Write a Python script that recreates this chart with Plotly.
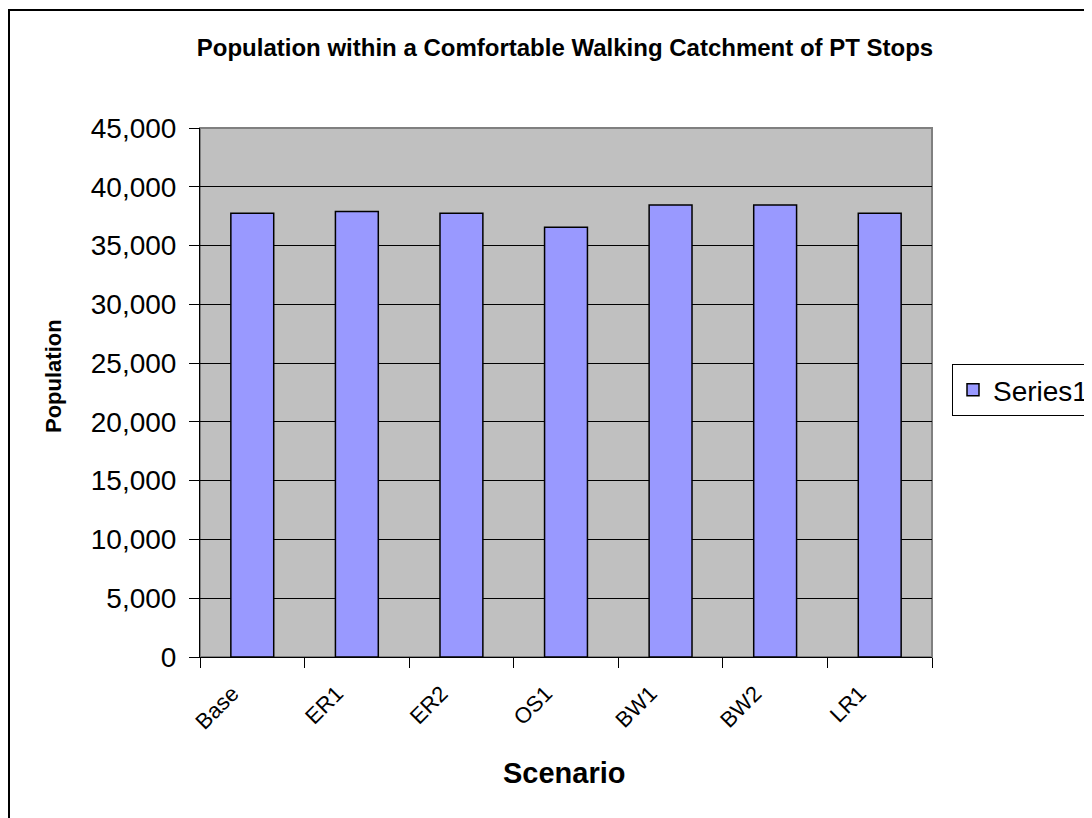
import plotly.graph_objects as go

scenarios = ["Base", "ER1", "ER2", "OS1", "BW1", "BW2", "LR1"]
population = [37750, 37900, 37750, 36550, 38450, 38450, 37750]
y_ticks = [0, 5000, 10000, 15000, 20000, 25000, 30000, 35000, 40000, 45000]
y_tick_labels = ["0", "5,000", "10,000", "15,000", "20,000", "25,000",
                 "30,000", "35,000", "40,000", "45,000"]

FONT = "Arial, Liberation Sans, sans-serif"

fig = go.Figure()
fig.add_trace(go.Bar(
    x=scenarios, y=population, name="Series1",
    marker=dict(color="#9999FF", line=dict(color="black", width=1.5)),
    showlegend=True,
))

OFF = 8  # page offset of the figure div
W, H = 1084, 810
L, T = 200 - OFF, 128 - OFF
R = W - (932 - OFF)
B = H - (657 - OFF)
pw, ph = W - L - R, H - T - B

def px_x(p):
    return (p - OFF - L) / pw

def px_y(p):
    return ((H - B) - (p - OFF)) / ph

fig.update_layout(
    width=W, height=H, autosize=False,
    margin=dict(l=L, r=R, t=T, b=B),
    paper_bgcolor="white", plot_bgcolor="#C0C0C0",
    bargap=0.59,
    font=dict(family=FONT, color="black"),
    title=dict(text="<b>Population within a Comfortable Walking Catchment of PT Stops</b>",
               font=dict(size=24, family=FONT), x=(565 - OFF) / W, xanchor="center",
               y=1 - (48 - OFF) / H, yanchor="middle"),
    showlegend=True,
    legend=dict(xref="container", yref="container",
                x=(952 - OFF) / W, xanchor="left", y=1 - (390 - OFF) / H, yanchor="middle",
                bordercolor="black", borderwidth=1, bgcolor="white",
                font=dict(size=28, family=FONT)),
    xaxis=dict(
        tickangle=-45, tickfont=dict(size=22, family=FONT),
        ticks="outside", ticklen=10, tickcolor="black", tickson="boundaries",
        ticklabelstandoff=14, ticklabelshift=-20,
        showline=True, linecolor="black", linewidth=1,
        showgrid=False,
    ),
    yaxis=dict(
        range=[0, 45000], tickvals=y_ticks, ticktext=y_tick_labels,
        tickfont=dict(size=28, family=FONT),
        ticks="outside", ticklen=10, tickcolor="black", ticklabelstandoff=7,
        showgrid=True, gridcolor="black", gridwidth=1,
        showline=True, linecolor="black", linewidth=1,
        zeroline=False,
    ),
    annotations=[
        dict(text="<b>Population</b>", textangle=-90, showarrow=False,
             xref="paper", yref="paper", x=px_x(53), y=px_y(376),
             xanchor="center", yanchor="middle", font=dict(size=22, family=FONT)),
        dict(text="<b>Scenario</b>", showarrow=False,
             xref="paper", yref="paper", x=px_x(564), y=px_y(773),
             xanchor="center", yanchor="middle", font=dict(size=29, family=FONT)),
    ],
    shapes=[
        dict(type="rect", xref="paper", yref="paper", x0=0, x1=1, y0=0, y1=1,
             line=dict(color="#808080", width=2), layer="below"),
        dict(type="rect", xref="paper", yref="paper",
             x0=px_x(9), x1=px_x(1110), y0=px_y(830), y1=px_y(10),
             line=dict(color="black", width=2)),
    ],
)

fig.write_html("out.html")
